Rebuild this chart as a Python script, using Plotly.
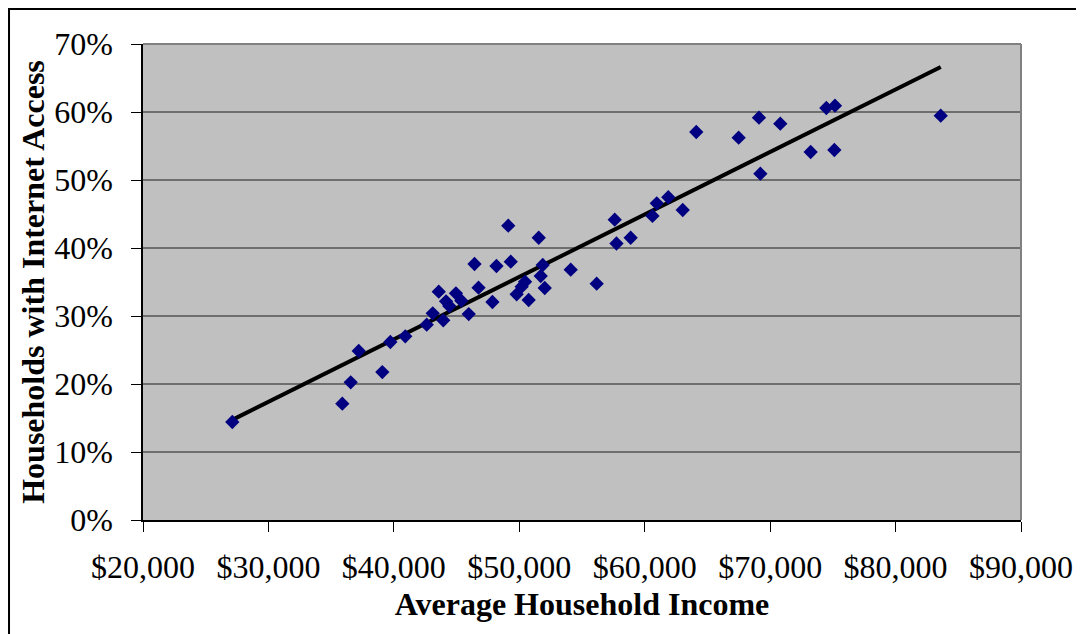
import numpy as np
import plotly.graph_objects as go

# Average household income ($) per state
income = [27120, 35890, 36560, 37200, 39080, 39720, 40910, 42620, 43100, 43940,
          43580, 44160, 44420, 44950, 45380, 45970, 46430, 46750, 47860, 48180,
          49120, 49320, 49790, 50190, 50460, 50750, 51550, 51710, 51870, 52030,
          54100, 56170, 57610, 57750, 58880, 60620, 60960, 61880, 63030, 64110,
          67490, 69110, 69220, 70810, 73230, 74480, 75170, 75120, 83600]
# Households with internet access (%)
internet = [14.41, 17.10, 20.25, 24.85, 21.76, 26.18, 27.01, 28.72, 30.40, 29.37,
            33.57, 32.16, 31.47, 33.34, 32.25, 30.29, 37.65, 34.16, 32.06, 37.35,
            43.28, 37.99, 33.19, 34.31, 35.04, 32.35, 41.51, 35.88, 37.50, 34.12,
            36.81, 34.75, 44.16, 40.66, 41.51, 44.71, 46.57, 47.46, 45.59, 57.06,
            56.22, 59.16, 50.93, 58.28, 54.12, 60.59, 60.93, 54.41, 59.46]

x_ticks = [20000, 30000, 40000, 50000, 60000, 70000, 80000, 90000]
x_labels = ["$20,000", "$30,000", "$40,000", "$50,000", "$60,000", "$70,000",
            "$80,000", "$90,000"]
y_ticks = [0, 10, 20, 30, 40, 50, 60, 70]
y_labels = ["0%", "10%", "20%", "30%", "40%", "50%", "60%", "70%"]

# linear trendline (least squares)
slope, intercept = np.polyfit(income, internet, 1)
trend_x = [min(income), max(income)]
trend_y = [slope * v + intercept for v in trend_x]

FONT = "Liberation Serif"

fig = go.Figure()
fig.add_trace(go.Scatter(
    x=trend_x, y=trend_y, mode="lines",
    line=dict(color="black", width=4), hoverinfo="skip", showlegend=False))
fig.add_trace(go.Scatter(
    x=income, y=internet, mode="markers",
    marker=dict(symbol="diamond", color="#000080", size=11, line=dict(width=0)),
    showlegend=False))

fig.update_layout(
    width=1084, height=634,
    margin=dict(l=135, r=71, t=36, b=122),
    paper_bgcolor="white", plot_bgcolor="#C0C0C0",
    font=dict(family=FONT, color="black", size=32),
    xaxis=dict(
        range=[20000, 90000], tickvals=x_ticks, ticktext=x_labels,
        showgrid=False, zeroline=False,
        showline=True, linecolor="black", linewidth=1.5,
        ticks="outside", ticklen=10, tickcolor="black", tickwidth=1,
        ticklabelstandoff=8,
        tickfont=dict(family=FONT, size=32),
        title=dict(text="<b>Average Household Income</b>",
                   font=dict(family=FONT, size=32), standoff=8),
    ),
    yaxis=dict(
        range=[0, 70], tickvals=y_ticks, ticktext=y_labels,
        showgrid=True, gridcolor="#6e6e6e", gridwidth=1.5,
        zeroline=False,
        showline=True, linecolor="black", linewidth=1.5,
        ticks="outside", ticklen=10, tickcolor="black", tickwidth=1,
        ticklabelstandoff=12,
        tickfont=dict(family=FONT, size=32),
        title=dict(text="<b>Households with Internet Access</b>",
                   font=dict(family=FONT, size=32), standoff=0),
    ),
    shapes=[
        # plot area top and right border (gray)
        dict(type="line", xref="paper", yref="paper", x0=0, x1=1, y0=1, y1=1,
             line=dict(color="#808080", width=2), layer="above"),
        dict(type="line", xref="paper", yref="paper", x0=1, x1=1, y0=0, y1=1,
             line=dict(color="#808080", width=2), layer="above"),
        # outer chart frame (top and left edges visible)
        dict(type="rect", xref="paper", yref="paper",
             x0=-0.1526, x1=1.1, y0=-0.3, y1=1.0735,
             line=dict(color="black", width=2), fillcolor="rgba(0,0,0,0)",
             layer="above"),
    ],
)

fig.write_html("out.html")
